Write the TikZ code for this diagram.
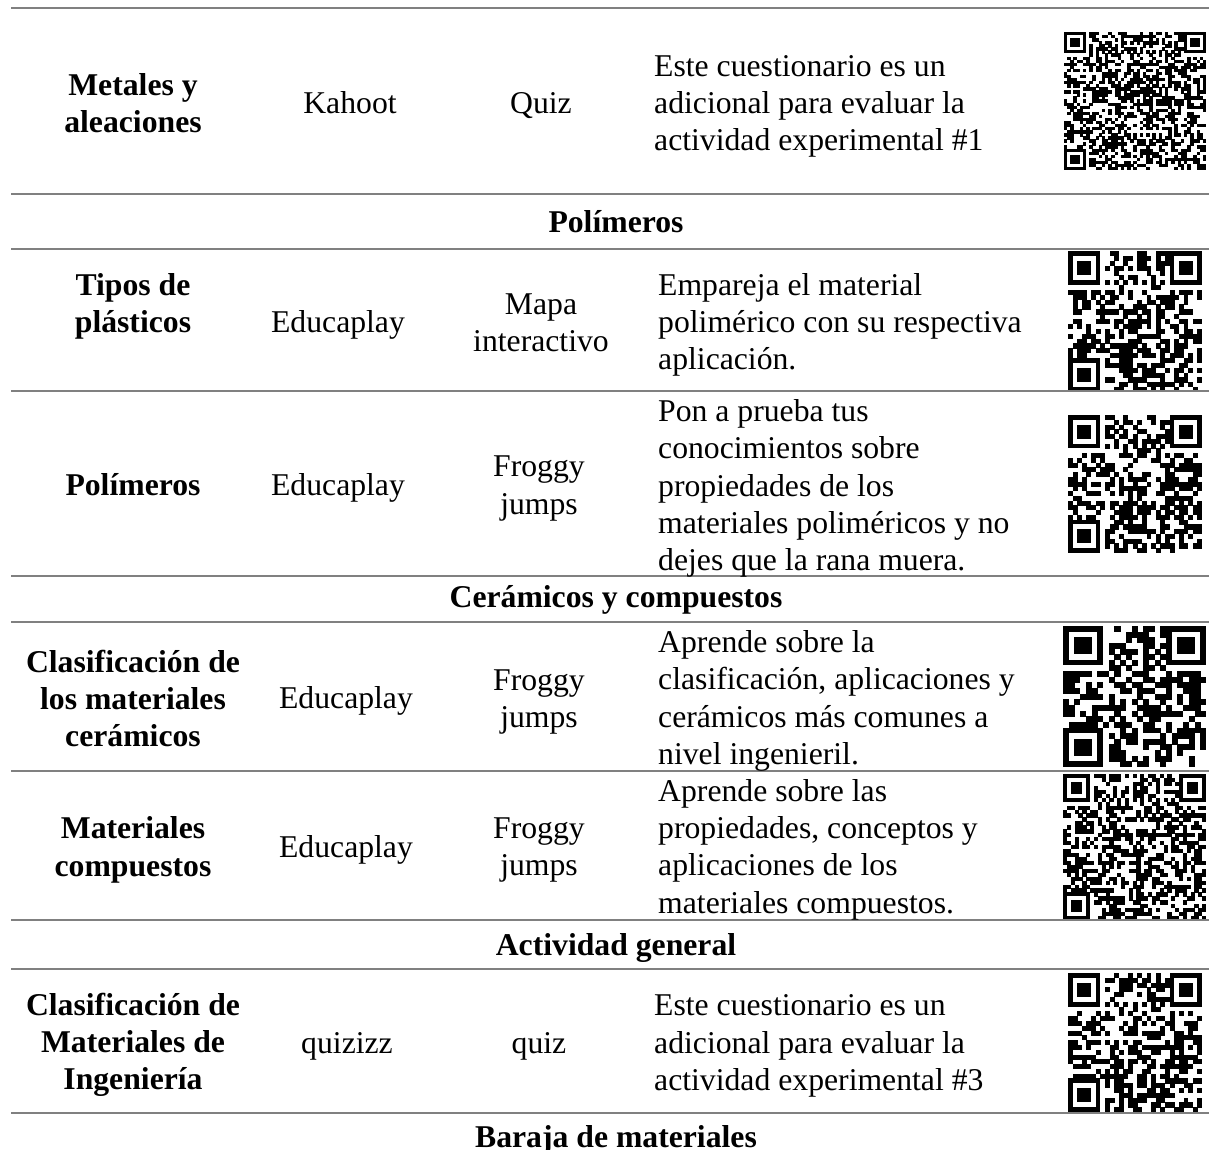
\documentclass[tikz,border=0pt]{standalone}
\usepackage{fontspec}
\setmainfont{Liberation Serif}
\definecolor{ruleGray}{HTML}{808080}
\newcommand{\qrpat}[6]{%
  \pgfmathsetmacro{\qw}{#3/#5}%
  \pgfmathsetmacro{\qh}{#4/#5}%
  \pgfmathtruncatemacro{\qn}{#5-1}%
  \pgfmathtruncatemacro{\ql}{#5-8}%
  \pgfmathtruncatemacro{\qf}{#5-7}%
  \pgfmathsetseed{#6}%
  \foreach \i in {0,...,\qn}{%
    \foreach \j in {0,...,\qn}{%
      \pgfmathtruncatemacro{\qskip}{or(or(and(\i<8,\j<8),and(\i<8,\j>\ql)),and(\i>\ql,\j<8))}%
      \ifnum\qskip=0
        \pgfmathtruncatemacro{\qt}{or(\i==6,\j==6)}%
        \ifnum\qt=1
          \pgfmathtruncatemacro{\qb}{mod(\i+\j+1,2)}%
        \else
          \pgfmathrandominteger{\qb}{0}{1}%
        \fi
        \ifnum\qb=1
          \fill (#1+\j*\qw, #2+\i*\qh) rectangle ++(\qw+0.3, \qh+0.3);
        \fi
      \fi
    }%
  }%
  \foreach \fx/\fy in {0/0, \qf/0, 0/\qf}{%
    \fill (#1+\fx*\qw, #2+\fy*\qh) rectangle ++(7*\qw, 7*\qh);
    \fill[white] (#1+\fx*\qw+\qw, #2+\fy*\qh+\qh) rectangle ++(5*\qw, 5*\qh);
    \fill (#1+\fx*\qw+2*\qw, #2+\fy*\qh+2*\qh) rectangle ++(3*\qw, 3*\qh);
  }%
}
\tikzset{
  txt/.style={font=\fontsize{31.7}{37.3}\selectfont, inner sep=0pt, align=center},
  one/.style={txt, text height=21.5pt, text depth=0pt},
  hdr/.style={txt, font=\fontsize{31.7}{37.3}\selectfont\bfseries},
  hdrone/.style={hdr, text height=21.5pt, text depth=0pt},
  desc/.style={txt, align=left, anchor=west},
  tabrule/.style={draw=ruleGray, line width=2pt},
}
\begin{document}
\begin{tikzpicture}[x=1pt, y=-1pt]
\useasboundingbox (0,0) rectangle (1209,1149);
\clip (0,0) rectangle (1209,1149);
\fill[white] (0,0) rectangle (1209,1149);

% QR codes
\qrpat{1064}{32}{142}{138}{45}{11}
\qrpat{1068}{251}{134}{141}{29}{22}
\qrpat{1068}{415}{134}{138}{29}{33}
\qrpat{1063}{626}{143}{141}{25}{44}
\qrpat{1063}{774}{143}{146}{37}{55}
\qrpat{1068}{973}{134}{139}{29}{66}

% rules
\foreach \yy in {7.5,194,249,391,576,622,771,920,969,1113}{
  \draw[tabrule] (11,\yy) -- (1209,\yy);
}

% Row 1
\node[hdr] (r1a) at (133,103.5) {Metales y\\aleaciones};
\node[one] (r1b) at (350,103) {Kahoot};
\node[one] (r1c) at (541,103) {Quiz};
\node[desc] (r1d) at (654,106.5) {Este cuestionario es un\\adicional para evaluar la\\actividad experimental \#1};

\node[hdrone] (h1) at (616,222) {Polímeros};

% Row 2
\node[hdr] (r2a) at (133,306.5) {Tipos de\\plásticos};
\node[one] (r2b) at (338,322) {Educaplay};
\node[txt] (r2c) at (541,322.5) {Mapa\\interactivo};
\node[desc] (r2d) at (658,325) {Empareja el material\\polimérico con su respectiva\\aplicación.};

% Row 3
\node[hdrone] (r3a) at (133,485) {Polímeros};
\node[one] (r3b) at (338,485) {Educaplay};
\node[txt] (r3c) at (539,488.5) {Froggy\\jumps};
\node[desc] (r3d) at (658,488.5) {Pon a prueba tus\\conocimientos sobre\\propiedades de los\\materiales poliméricos y no\\dejes que la rana muera.};

\node[hdrone] (h2) at (616,597) {Cerámicos y compuestos};

% Row 4
\node[hdr] (r4a) at (133,698.5) {Clasificación de\\los materiales\\cerámicos};
\node[one] (r4b) at (346,698) {Educaplay};
\node[txt] (r4c) at (539,702) {Froggy\\jumps};
\node[desc] (r4d) at (658,701) {Aprende sobre la\\clasificación, aplicaciones y\\cerámicos más comunes a\\nivel ingenieril.};

% Row 5
\node[hdr] (r5a) at (133,850) {Materiales\\compuestos};
\node[one] (r5b) at (346,847) {Educaplay};
\node[txt] (r5c) at (539,850) {Froggy\\jumps};
\node[desc] (r5d) at (658,849.5) {Aprende sobre las\\propiedades, conceptos y\\aplicaciones de los\\materiales compuestos.};

\node[hdrone] (h3) at (616,945) {Actividad general};

% Row 6
\node[hdr] (r6a) at (133,1045) {Clasificación de\\Materiales de\\Ingeniería};
\node[one] (r6b) at (347,1043) {quizizz};
\node[one] (r6c) at (539,1043) {quiz};
\node[desc] (r6d) at (654,1046) {Este cuestionario es un\\adicional para evaluar la\\actividad experimental \#3};

\node[hdrone] (h4) at (616,1137) {Baraja de materiales};
\end{tikzpicture}
\end{document}
